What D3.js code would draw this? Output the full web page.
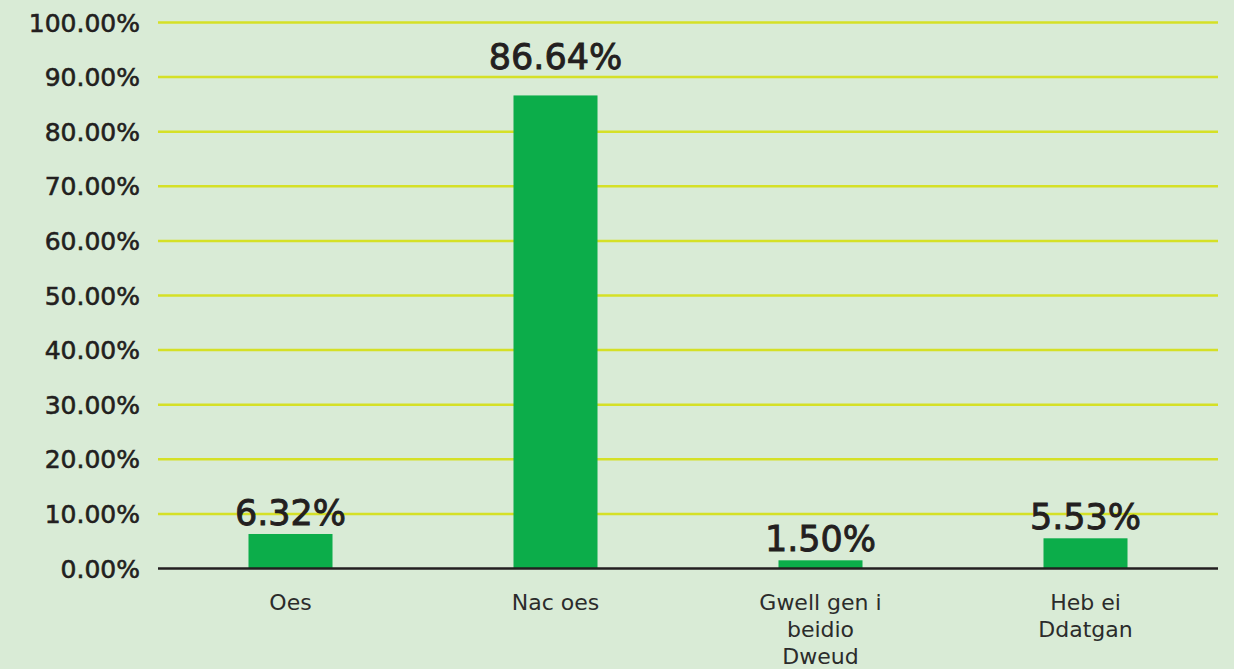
<!DOCTYPE html>
<html>
<head>
<meta charset="utf-8">
<script src="https://cdn.jsdelivr.net/npm/d3@7"></script>
<style>
  html, body { margin: 0; padding: 0; background: #d9ebd6; }
  svg { display: block; font-family: "DejaVu Sans", sans-serif; }
</style>
</head>
<body>
<div id="chart"></div>
<script>
// data
const categories = ["Oes", "Nac oes", "Gwell gen i beidio Dweud", "Heb ei Ddatgan"];
const values = [6.32, 86.64, 1.50, 5.53];
const yTicks = [0, 10, 20, 30, 40, 50, 60, 70, 80, 90, 100];

const W = 1234, H = 669;
const margin = {top: 22.5, right: 16, bottom: 100.5, left: 158};

const colors = {
  bg: "#d9ebd6",
  grid: "#d5e026",
  bar: "#0cad4a",
  axis: "#231f20",
  text: "#231f20"
};

const svg = d3.select("#chart").append("svg")
  .attr("width", W)
  .attr("height", H);

svg.append("rect").attr("width", W).attr("height", H).attr("fill", colors.bg);

const x = d3.scaleBand()
  .domain(categories)
  .range([margin.left, W - margin.right])
  .paddingInner(0.683)
  .paddingOuter(0.3415);

const y = d3.scaleLinear()
  .domain([0, 100])
  .range([H - margin.bottom, margin.top]);

// gridlines
svg.append("g")
  .selectAll("line")
  .data(yTicks.filter(t => t > 0))
  .join("line")
  .attr("x1", margin.left)
  .attr("x2", W - margin.right)
  .attr("y1", d => y(d))
  .attr("y2", d => y(d))
  .attr("stroke", colors.grid)
  .attr("stroke-width", 2.5);

// y tick labels (thin stroke to get a medium weight)
svg.append("g")
  .selectAll("text")
  .data(yTicks)
  .join("text")
  .attr("x", 140)
  .attr("y", d => y(d))
  .attr("dy", "0.36em")
  .attr("text-anchor", "end")
  .attr("font-size", 25)
  .attr("fill", colors.text)
  .attr("stroke", colors.text)
  .attr("stroke-width", 0.6)
  .text(d => d.toFixed(2) + "%");

const rows = categories.map((c, i) => ({cat: c, value: values[i]}));

// bars
svg.append("g")
  .selectAll("rect")
  .data(rows)
  .join("rect")
  .attr("x", d => x(d.cat))
  .attr("width", x.bandwidth())
  .attr("y", d => y(d.value))
  .attr("height", d => y(0) - y(d.value))
  .attr("fill", colors.bar);

// x axis line
svg.append("line")
  .attr("x1", margin.left)
  .attr("x2", W - margin.right)
  .attr("y1", y(0))
  .attr("y2", y(0))
  .attr("stroke", colors.axis)
  .attr("stroke-width", 2.5);

// value labels (tall bar label sits a bit higher, as in the original)
const lift = d => d.value > 50 ? 26 : 9;
svg.append("g")
  .selectAll("text")
  .data(rows)
  .join("text")
  .attr("x", d => x(d.cat) + x.bandwidth() / 2)
  .attr("y", d => y(d.value) - lift(d))
  .attr("text-anchor", "middle")
  .attr("font-size", 35)
  .attr("fill", colors.text)
  .attr("stroke", colors.text)
  .attr("stroke-width", 0.9)
  .text(d => d.value.toFixed(2) + "%");

// category labels with wrapping
const wrapWidth = 135;
svg.append("g")
  .selectAll("text")
  .data(rows)
  .join("text")
  .attr("x", d => x(d.cat) + x.bandwidth() / 2)
  .attr("y", 610)
  .attr("text-anchor", "middle")
  .attr("font-size", 22)
  .attr("fill", "#2b2b2b")
  .each(function(d) {
    const t = d3.select(this);
    const words = d.cat.split(" ");
    let line = [];
    let tspan = t.append("tspan").attr("x", t.attr("x")).attr("dy", 0);
    words.forEach(w => {
      line.push(w);
      tspan.text(line.join(" "));
      if (tspan.node().getComputedTextLength() > wrapWidth && line.length > 1) {
        line.pop();
        tspan.text(line.join(" "));
        line = [w];
        tspan = t.append("tspan").attr("x", t.attr("x")).attr("dy", 27).text(w);
      }
    });
  });
</script>
</body>
</html>
